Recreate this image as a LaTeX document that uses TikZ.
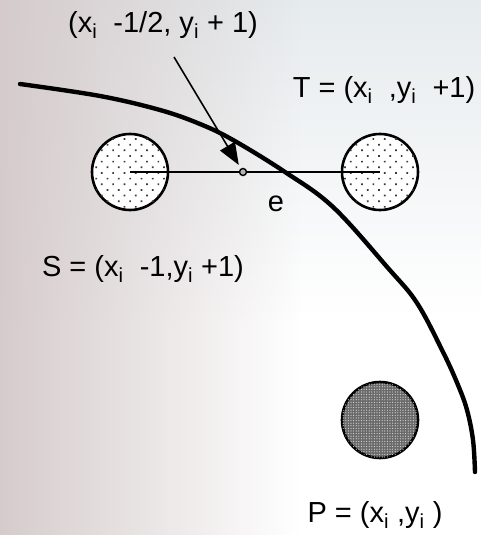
\documentclass[tikz,border=0pt]{standalone}
\usepackage{fontspec}
\setmainfont{Liberation Sans}
\usetikzlibrary{arrows.meta,patterns.meta,fadings,positioning}
\definecolor{mpInk}{HTML}{000000}
\definecolor{mpDot}{HTML}{3a3a3a}
\definecolor{mpChk}{HTML}{6a6a6a}
\definecolor{mpHaze}{HTML}{d5cbcc}
\definecolor{mpMist}{HTML}{e6ebed}
\tikzset{
  >={Triangle[length=22pt,width=17pt]},
  pixel/.style={circle, draw=mpInk, line width=2.6pt, minimum size=76pt, inner sep=0pt},
  candidate/.style={pixel, fill=white,
              postaction={pattern={Dots[distance=8pt,angle=45,radius=1.2pt]}, pattern color=mpDot}},
  chosen/.style={pixel, fill=mpChk,
              postaction={pattern={Dots[distance=2.6pt,radius=0.6pt]}, pattern color=white!75!mpChk}},
  midpt/.style={circle, draw=mpInk, line width=1.4pt, fill=gray!60, minimum size=7pt, inner sep=0pt},
  lbl/.style={font=\fontsize{29}{33}\selectfont, inner sep=0pt},
  arc/.style={draw=mpInk, line width=4.4pt, line cap=round, line join=round},
  seg/.style={draw=mpInk, line width=1.6pt},
  pointer/.style={->, draw=mpInk, line width=1.6pt, shorten >=4pt},
}
\newcommand{\isub}[1]{\textsubscript{#1}}

\begin{document}
\begin{tikzpicture}[x=1pt,y=-1pt]
    \useasboundingbox (0,0) rectangle (481,535);
    \shade[top color=mpMist, bottom color=white] (0,0) rectangle (481,320);
    \fill[mpHaze, path fading=east] (0,0) rectangle (300,535);
    \node[candidate] (S) at (130,172) {};
    \node[candidate] (T) at (380,172) {};
    \node[chosen] (P) at (380,420) {};
    \draw[seg] (S.center) -- (T.center);
    \node[midpt] (M) at (243,172) {};
    \node[lbl] (Mlbl) at (163,25) {(x\isub{i}\ \ -1/2, y\isub{i} + 1)};
    \coordinate (tail) at (174,57);
    \draw[pointer] (tail) -- (M);
    \node[lbl] (Tlbl) at (384,90) {T = (x\isub{i}\ \ ,y\isub{i}\ \ +1)};
    \node[lbl] (Slbl) at (143,269) {S = (x\isub{i}\ \ -1,y\isub{i} +1)};
    \node[lbl] (e) at (276,204) {e};
    \node[lbl] (Plbl) at (375,515) {P = (x\isub{i} ,y\isub{i} )};
    \draw[arc] plot[smooth, tension=0.6] coordinates {(20,84) (100,96) (160,110) (200,124) (233,140)
      (285,172) (333,207) (388,268) (417,303) (443,352) (458,385) (467,410) (473,440) (475,472)};
\end{tikzpicture}
\end{document}
